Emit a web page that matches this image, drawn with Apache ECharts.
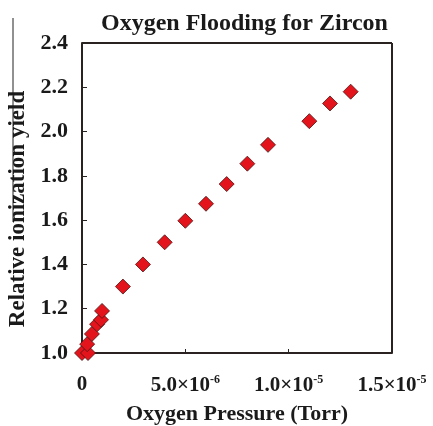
<!DOCTYPE html>
<html>
<head>
<meta charset="utf-8">
<script src="https://cdn.jsdelivr.net/npm/echarts@6/dist/echarts.min.js"></script>
<style>
  html, body { margin: 0; padding: 0; background: #fff; }
  #chart { width: 433px; height: 426px; }
</style>
</head>
<body>
<div id="chart"></div>
<script>
// Oxygen pressure (Torr) and relative ionization yield
const pressure = [0, 0.29e-6, 0.25e-6, 0.48e-6, 0.73e-6, 0.92e-6, 0.97e-6, 1.98e-6, 2.95e-6,
  4.0e-6, 5.0e-6, 6.0e-6, 7.0e-6, 8.0e-6, 9.0e-6, 11.0e-6, 12.0e-6, 13.0e-6];
const yieldVals = [1.0, 1.0, 1.04, 1.086, 1.13, 1.15, 1.19, 1.30, 1.40,
  1.50, 1.597, 1.674, 1.763, 1.855, 1.94, 2.047, 2.127, 2.18];
const xTicks = { 0: ['0', ''], 5e-6: ['5.0×10', '-6'], 1e-5: ['1.0×10', '-5'], 1.5e-5: ['1.5×10', '-5'] };

const serif = '"Liberation Serif", "DejaVu Serif", serif';
const axisColor = '#2a2220';
const textColor = '#1a1a1a';

const chart = echarts.init(document.getElementById('chart'));

chart.setOption({
  animation: false,
  title: {
    text: 'Oxygen Flooding for Zircon',
    left: 96,
    top: 7,
    textStyle: { fontFamily: serif, fontWeight: 'bold', fontSize: 24, color: textColor }
  },
  grid: { left: 82, top: 43, right: 41, bottom: 73, outerBoundsMode: 'none', containLabel: false },
  xAxis: {
    type: 'value',
    min: 0,
    max: 1.5e-5,
    interval: 5e-6,
    name: 'Oxygen Pressure (Torr)',
    nameLocation: 'middle',
    nameGap: 50,
    nameTextStyle: { fontFamily: serif, fontWeight: 'bold', fontSize: 22, color: textColor },
    axisLine: { show: true, lineStyle: { color: axisColor, width: 2 } },
    axisTick: { show: true, inside: true, length: 4, lineStyle: { color: axisColor, width: 1 } },
    splitLine: { show: false },
    axisLabel: {
      margin: 21,
      color: textColor,
      fontFamily: serif,
      fontWeight: 'bold',
      fontSize: 21,
      formatter: function (v) {
        const key = Object.keys(xTicks).find(k => Math.abs(Number(k) - v) < 1e-9);
        if (!key) return '';
        const t = xTicks[key];
        return t[1] ? t[0] + '{s|' + t[1] + '}' : t[0];
      },
      rich: {
        s: { fontFamily: serif, fontWeight: 'bold', fontSize: 12, color: textColor, verticalAlign: 'top', padding: [0, 0, 12, 0] }
      }
    }
  },
  yAxis: {
    type: 'value',
    min: 1.0,
    max: 2.4,
    interval: 0.2,
    name: 'Relative ionization yield',
    nameLocation: 'middle',
    nameGap: 52,
    nameTextStyle: { fontFamily: serif, fontWeight: 'bold', fontSize: 23, color: textColor, padding: [0, 22, 0, 0] },
    axisLine: { show: true, lineStyle: { color: axisColor, width: 2 } },
    axisTick: { show: true, inside: true, length: 5, lineStyle: { color: axisColor, width: 1 } },
    splitLine: { show: false },
    axisLabel: {
      margin: 14,
      color: textColor,
      fontFamily: serif,
      fontWeight: 'bold',
      fontSize: 22,
      formatter: v => v.toFixed(1)
    }
  },
  graphic: [
    // plot frame top and right
    { type: 'line', shape: { x1: 82, y1: 43, x2: 392, y2: 43 }, style: { stroke: axisColor, lineWidth: 2 } },
    { type: 'line', shape: { x1: 392, y1: 43, x2: 392, y2: 353 }, style: { stroke: axisColor, lineWidth: 2 } },
    { type: 'line', shape: { x1: 13, y1: 18, x2: 13, y2: 222 }, style: { stroke: '#222', lineWidth: 1 } }
  ],
  series: [{
    type: 'scatter',
    symbol: 'diamond',
    symbolSize: 15,
    data: pressure.map((p, i) => [p, yieldVals[i]]),
    itemStyle: { color: '#e3141b', opacity: 1, borderColor: '#4a1414', borderWidth: 0.8 }
  }]
});
</script>
</body>
</html>
